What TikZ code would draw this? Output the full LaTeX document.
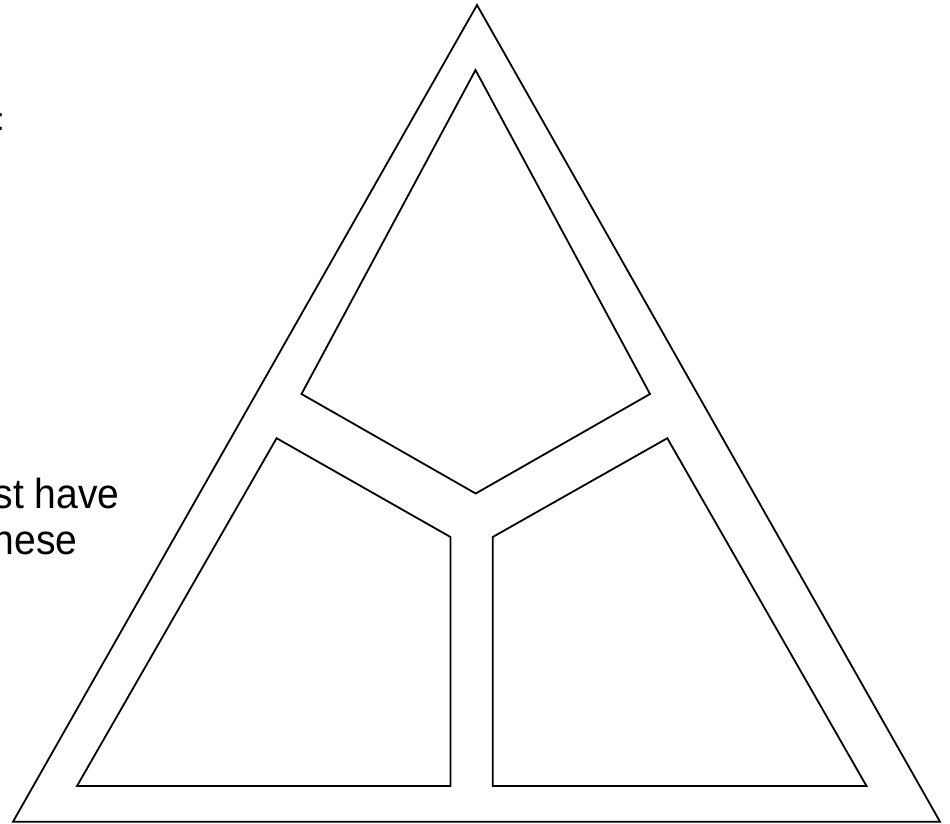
\documentclass[tikz,border=0pt]{standalone}
\usepackage{fontspec}
\usepackage{graphicx}
\setmainfont{Liberation Sans}
\begin{document}
\begin{tikzpicture}[x=1pt,y=-1pt,
  shapeline/.style={draw=black,line width=1.8pt,line join=miter},
  lbl/.style={inner sep=0pt,outer sep=0pt,font=\fontsize{42}{50}\selectfont},
  ttl/.style={inner sep=0pt,outer sep=0pt,font=\fontsize{32}{38}\selectfont}]
\useasboundingbox (0,0) rectangle (950,823);
\clip (0,0) rectangle (950,823);
% text fragments (clipped at left edge)
\node[ttl,anchor=base west] (colon) at (-4.1,130) {:};
\node[lbl,anchor=base east] (line1) at (119.6,508) {\scalebox{0.93}[1]{st have}};
\node[lbl,anchor=base east] (line2) at (77.6,554) {\scalebox{0.93}[1]{hese}};
% outer triangle
\draw[shapeline] (477,5) -- (13,821.7) -- (940,821.7) -- cycle;
% top pentagon
\draw[shapeline] (475.5,70) -- (301.5,394) -- (475.7,493.5) -- (650,394) -- cycle;
% lower left piece
\draw[shapeline] (276.6,438.2) -- (450.5,537) -- (450.5,786) -- (77,786) -- cycle;
% lower right piece
\draw[shapeline] (667.3,438.2) -- (492.7,537) -- (492.7,786) -- (866.5,786) -- cycle;
\end{tikzpicture}
\end{document}
